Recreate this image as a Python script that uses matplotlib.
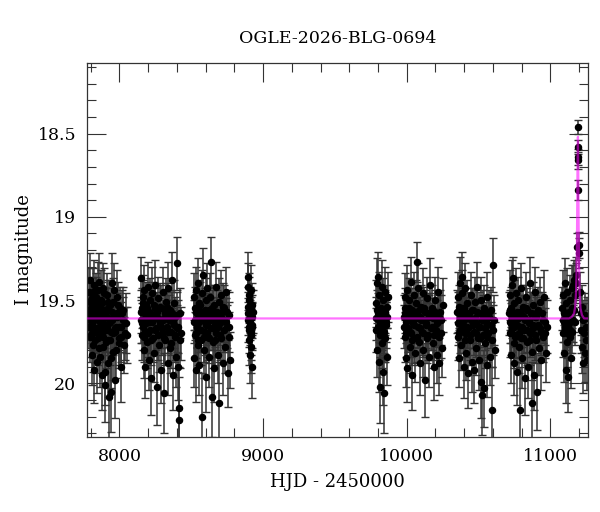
import matplotlib
matplotlib.use("Agg")
import matplotlib.pyplot as plt
from matplotlib.ticker import MultipleLocator

plt.rcParams['font.family'] = ['DejaVu Serif']

# photometry per observing season: (HJD-2450000, I mag, error)
season_1 = [
    (7788, 19.58, 0.13), (7790, 19.45, 0.14), (7793, 19.62, 0.12), (7795, 19.72, 0.15), (7797, 19.38, 0.16),
    (7800, 19.71, 0.13), (7802, 19.50, 0.14), (7804, 19.55, 0.15), (7806, 19.64, 0.12), (7808, 19.83, 0.18),
    (7811, 19.49, 0.12), (7813, 19.77, 0.16), (7815, 19.66, 0.14), (7817, 19.45, 0.14), (7819, 19.58, 0.13),
    (7822, 19.92, 0.20), (7824, 19.60, 0.13), (7826, 19.41, 0.15), (7828, 19.55, 0.15), (7830, 19.74, 0.14),
    (7834, 19.60, 0.12), (7836, 19.69, 0.12), (7838, 19.52, 0.16), (7840, 19.48, 0.14), (7842, 19.87, 0.19),
    (7846, 19.67, 0.13), (7848, 19.73, 0.16), (7850, 19.44, 0.17), (7853, 19.62, 0.13), (7855, 19.79, 0.15),
    (7858, 19.39, 0.17), (7860, 19.57, 0.12), (7863, 19.84, 0.18), (7865, 19.63, 0.14), (7868, 19.66, 0.12),
    (7870, 19.50, 0.18), (7873, 19.58, 0.14), (7875, 19.95, 0.21), (7878, 19.52, 0.13), (7880, 19.70, 0.13),
    (7883, 19.78, 0.16), (7886, 19.43, 0.15), (7889, 19.65, 0.12), (7891, 19.61, 0.12), (7894, 19.46, 0.15),
    (7896, 20.01, 0.22), (7899, 19.93, 0.20), (7902, 19.56, 0.14), (7905, 19.68, 0.13), (7908, 19.75, 0.16),
    (7911, 19.60, 0.14), (7914, 19.47, 0.13), (7917, 19.74, 0.15), (7920, 19.88, 0.20), (7923, 19.51, 0.13),
    (7926, 19.64, 0.12), (7929, 20.08, 0.25), (7932, 19.53, 0.15), (7935, 19.63, 0.12), (7938, 20.05, 0.24),
    (7941, 19.85, 0.18), (7944, 19.69, 0.13), (7947, 19.57, 0.14), (7950, 19.40, 0.18), (7954, 19.70, 0.13),
    (7957, 19.81, 0.17), (7961, 19.44, 0.16), (7964, 19.59, 0.14), (7968, 19.67, 0.15), (7971, 19.98, 0.23),
    (7975, 19.80, 0.17), (7978, 19.66, 0.12), (7982, 19.60, 0.13), (7986, 19.48, 0.16), (7990, 19.53, 0.14),
    (7994, 19.76, 0.15), (7998, 19.73, 0.16), (8003, 19.55, 0.13), (8008, 19.66, 0.15), (8013, 19.90, 0.21),
    (8018, 19.58, 0.14), (8025, 19.62, 0.14), (8032, 19.77, 0.17), (8040, 19.70, 0.16), (8048, 19.64, 0.18),
    (7789, 19.66, 0.13), (7792, 19.51, 0.14), (7799, 19.60, 0.12), (7807, 19.70, 0.14), (7814, 19.56, 0.13),
    (7821, 19.68, 0.14), (7832, 19.54, 0.13), (7845, 19.61, 0.12), (7857, 19.71, 0.14), (7867, 19.55, 0.13),
    (7877, 19.64, 0.12), (7888, 19.72, 0.15), (7898, 19.58, 0.13), (7910, 19.67, 0.14), (7921, 19.55, 0.12),
    (7933, 19.74, 0.15), (7945, 19.62, 0.13), (7958, 19.51, 0.14), (7970, 19.69, 0.13), (7984, 19.58, 0.12),
    (7996, 19.66, 0.14), (8011, 19.72, 0.15), (8028, 19.56, 0.14), (8052, 19.71, 0.17),
]
season_2 = [
    (8150, 19.37, 0.13), (8153, 19.62, 0.14), (8156, 19.55, 0.12), (8159, 19.71, 0.15), (8162, 19.48, 0.13),
    (8165, 19.66, 0.14), (8168, 19.80, 0.17), (8171, 19.58, 0.12), (8174, 19.44, 0.15), (8177, 19.69, 0.13),
    (8180, 19.90, 0.19), (8184, 19.53, 0.14), (8188, 19.64, 0.12), (8192, 19.75, 0.16), (8196, 19.42, 0.15),
    (8200, 19.60, 0.13), (8204, 19.86, 0.18), (8208, 19.57, 0.12), (8212, 19.68, 0.14), (8216, 19.50, 0.13),
    (8220, 19.97, 0.22), (8224, 19.63, 0.12), (8228, 19.46, 0.16), (8232, 19.73, 0.14), (8236, 19.59, 0.13),
    (8240, 19.82, 0.17), (8245, 19.55, 0.12), (8250, 19.41, 0.15), (8255, 19.67, 0.13), (8260, 20.02, 0.23),
    (8265, 19.61, 0.14), (8270, 19.49, 0.13), (8275, 19.77, 0.16), (8280, 19.64, 0.12), (8285, 19.54, 0.14),
    (8290, 19.92, 0.20), (8295, 19.70, 0.13), (8300, 19.45, 0.15), (8305, 19.62, 0.12), (8310, 20.06, 0.24),
    (8315, 19.58, 0.13), (8320, 19.74, 0.15), (8325, 19.51, 0.14), (8330, 19.66, 0.12), (8335, 19.88, 0.19),
    (8340, 19.43, 0.16), (8345, 19.60, 0.13), (8350, 19.79, 0.15), (8355, 19.56, 0.12), (8360, 19.69, 0.14),
    (8365, 19.38, 0.17), (8370, 19.95, 0.21), (8375, 19.63, 0.13), (8380, 19.52, 0.14), (8385, 19.72, 0.15),
    (8390, 19.60, 0.12), (8395, 19.84, 0.18), (8400, 19.28, 0.16), (8404, 19.67, 0.14), (8408, 19.90, 0.20),
    (8412, 20.15, 0.25), (8415, 20.22, 0.26), (8418, 19.74, 0.17), (8422, 19.58, 0.15), (8425, 19.70, 0.16),
    (8152, 19.57, 0.13), (8158, 19.64, 0.12), (8166, 19.52, 0.14), (8173, 19.72, 0.15), (8182, 19.61, 0.13),
    (8190, 19.55, 0.12), (8198, 19.70, 0.14), (8206, 19.63, 0.13), (8214, 19.58, 0.12), (8222, 19.74, 0.15),
    (8230, 19.60, 0.13), (8238, 19.53, 0.14), (8248, 19.68, 0.13), (8258, 19.57, 0.12), (8268, 19.71, 0.15),
    (8278, 19.62, 0.13), (8288, 19.55, 0.14), (8298, 19.67, 0.12), (8308, 19.73, 0.15), (8318, 19.60, 0.13),
    (8328, 19.54, 0.14), (8338, 19.69, 0.13), (8348, 19.62, 0.12), (8358, 19.76, 0.15), (8368, 19.58, 0.13),
    (8378, 19.65, 0.14), (8388, 19.71, 0.15), (8398, 19.59, 0.14), (8410, 19.66, 0.16),
]
season_3 = [
    (8518, 19.48, 0.14), (8521, 19.85, 0.17), (8524, 19.62, 0.12), (8527, 19.55, 0.13), (8530, 19.70, 0.15),
    (8533, 19.92, 0.19), (8536, 19.44, 0.14), (8539, 19.66, 0.12), (8542, 19.58, 0.13), (8545, 19.77, 0.16),
    (8548, 19.40, 0.15), (8551, 19.63, 0.12), (8554, 19.52, 0.14), (8557, 19.89, 0.18), (8560, 19.68, 0.13),
    (8564, 19.57, 0.12), (8568, 19.74, 0.15), (8572, 19.46, 0.14), (8576, 20.20, 0.26), (8580, 19.61, 0.13),
    (8584, 19.35, 0.16), (8588, 19.80, 0.17), (8592, 19.59, 0.12), (8596, 19.69, 0.14), (8600, 19.50, 0.13),
    (8604, 19.96, 0.21), (8608, 19.64, 0.12), (8612, 19.43, 0.15), (8616, 19.72, 0.14), (8620, 19.56, 0.13),
    (8624, 19.84, 0.18), (8628, 19.62, 0.12), (8632, 19.48, 0.14), (8636, 19.27, 0.15), (8640, 19.67, 0.13),
    (8644, 20.08, 0.24), (8648, 19.58, 0.14), (8652, 19.75, 0.16), (8656, 19.53, 0.12), (8660, 19.91, 0.20),
    (8665, 19.65, 0.13), (8670, 19.42, 0.15), (8675, 19.70, 0.14), (8680, 19.60, 0.12), (8685, 19.83, 0.17),
    (8690, 19.51, 0.14), (8695, 20.12, 0.25), (8700, 19.64, 0.13), (8705, 19.47, 0.15), (8710, 19.73, 0.14),
    (8715, 19.57, 0.12), (8720, 19.88, 0.19), (8725, 19.62, 0.13), (8730, 19.55, 0.14), (8736, 19.78, 0.16),
    (8742, 19.45, 0.15), (8748, 19.66, 0.13), (8754, 19.94, 0.20), (8760, 19.59, 0.14), (8766, 19.72, 0.15),
    (8772, 19.86, 0.17),
    (8520, 19.63, 0.13), (8526, 19.71, 0.14), (8534, 19.57, 0.12), (8541, 19.66, 0.13), (8549, 19.74, 0.15),
    (8556, 19.60, 0.12), (8563, 19.53, 0.14), (8570, 19.68, 0.13), (8578, 19.62, 0.12), (8586, 19.72, 0.15),
    (8594, 19.56, 0.13), (8602, 19.65, 0.12), (8610, 19.70, 0.14), (8618, 19.59, 0.13), (8626, 19.73, 0.15),
    (8634, 19.61, 0.12), (8642, 19.55, 0.14), (8650, 19.67, 0.13), (8658, 19.62, 0.12), (8668, 19.74, 0.15),
    (8678, 19.57, 0.13), (8688, 19.66, 0.14), (8698, 19.71, 0.15), (8708, 19.60, 0.12), (8718, 19.54, 0.14),
    (8728, 19.68, 0.13), (8740, 19.63, 0.14), (8752, 19.57, 0.13), (8764, 19.66, 0.15),
]
season_4 = [
    (8893, 19.42, 0.14), (8895, 19.58, 0.13), (8897, 19.36, 0.15), (8899, 19.66, 0.12), (8901, 19.50, 0.14),
    (8903, 19.74, 0.15), (8905, 19.47, 0.13), (8907, 19.62, 0.12), (8909, 19.83, 0.17), (8911, 19.55, 0.13),
    (8913, 19.69, 0.14), (8915, 19.44, 0.15), (8917, 19.60, 0.12), (8919, 19.78, 0.16), (8921, 19.53, 0.13),
    (8923, 19.90, 0.19), (8925, 19.65, 0.14), (8927, 19.57, 0.13),
    (8894, 19.62, 0.13), (8898, 19.54, 0.12), (8902, 19.68, 0.14), (8906, 19.58, 0.12), (8910, 19.64, 0.13),
    (8914, 19.71, 0.15), (8918, 19.56, 0.12), (8922, 19.66, 0.14), (8926, 19.60, 0.13),
]
season_5 = [
    (9786, 19.52, 0.14), (9789, 19.68, 0.13), (9792, 19.40, 0.15), (9795, 19.80, 0.16), (9798, 19.58, 0.12),
    (9801, 19.36, 0.15), (9804, 19.62, 0.13), (9807, 19.87, 0.18), (9810, 19.47, 0.14), (9813, 19.71, 0.13),
    (9816, 20.02, 0.22), (9819, 19.55, 0.12), (9822, 19.65, 0.14), (9825, 19.42, 0.16), (9828, 19.76, 0.15),
    (9831, 19.60, 0.12), (9834, 19.93, 0.20), (9837, 19.50, 0.13), (9840, 19.69, 0.14), (9843, 20.06, 0.24),
    (9846, 19.57, 0.13), (9849, 19.45, 0.15), (9852, 19.73, 0.14), (9856, 19.63, 0.12), (9860, 19.84, 0.17),
    (9865, 19.54, 0.13), (9870, 19.48, 0.15),
    (9788, 19.61, 0.13), (9794, 19.56, 0.12), (9800, 19.66, 0.14), (9806, 19.59, 0.12), (9812, 19.63, 0.13),
    (9818, 19.70, 0.15), (9824, 19.57, 0.12), (9830, 19.66, 0.14), (9836, 19.61, 0.13), (9842, 19.72, 0.15),
    (9848, 19.58, 0.13), (9854, 19.65, 0.14), (9862, 19.60, 0.13),
]
season_6 = [
    (9982, 19.60, 0.13), (9985, 19.48, 0.14), (9988, 19.72, 0.15), (9991, 19.55, 0.12), (9994, 19.85, 0.17),
    (9997, 19.63, 0.13), (10000, 19.44, 0.15), (10004, 19.91, 0.20), (10008, 19.58, 0.12), (10012, 19.67, 0.14),
    (10016, 19.50, 0.13), (10020, 19.78, 0.16), (10024, 19.61, 0.12), (10028, 19.39, 0.15), (10032, 19.70, 0.14),
    (10036, 19.56, 0.13), (10040, 19.95, 0.21), (10044, 19.64, 0.12), (10048, 19.47, 0.14), (10052, 19.73, 0.15),
    (10056, 19.59, 0.13), (10060, 19.82, 0.17), (10065, 19.52, 0.14), (10070, 19.27, 0.12), (10075, 19.66, 0.13),
    (10080, 19.43, 0.15), (10085, 19.75, 0.14), (10090, 19.60, 0.12), (10095, 19.88, 0.19), (10100, 19.54, 0.13),
    (10105, 19.69, 0.14), (10110, 19.46, 0.15), (10115, 19.80, 0.16), (10120, 19.62, 0.12), (10125, 19.57, 0.13),
    (10130, 19.98, 0.22), (10135, 19.65, 0.14), (10140, 19.49, 0.13), (10145, 19.71, 0.15), (10150, 19.58, 0.12),
    (10156, 19.84, 0.18), (10162, 19.41, 0.16), (10168, 19.67, 0.13), (10174, 19.55, 0.14), (10180, 19.76, 0.15),
    (10186, 19.61, 0.12), (10192, 19.90, 0.20), (10198, 19.50, 0.14), (10204, 19.68, 0.13), (10210, 19.83, 0.17),
    (10216, 19.45, 0.15), (10222, 19.72, 0.14), (10228, 19.88, 0.19), (10234, 19.57, 0.13), (10240, 19.62, 0.15),
    (10246, 19.79, 0.17), (10250, 19.53, 0.16),
    (9984, 19.66, 0.13), (9990, 19.58, 0.12), (9998, 19.70, 0.14), (10006, 19.62, 0.13), (10014, 19.55, 0.12),
    (10022, 19.69, 0.14), (10030, 19.60, 0.13), (10038, 19.74, 0.15), (10046, 19.57, 0.12), (10054, 19.65, 0.13),
    (10062, 19.61, 0.12), (10072, 19.72, 0.15), (10082, 19.56, 0.13), (10092, 19.67, 0.14), (10102, 19.62, 0.12),
    (10112, 19.70, 0.14), (10122, 19.55, 0.13), (10132, 19.64, 0.12), (10142, 19.73, 0.15), (10152, 19.60, 0.13),
    (10164, 19.58, 0.12), (10176, 19.66, 0.14), (10188, 19.71, 0.15), (10200, 19.57, 0.13), (10212, 19.64, 0.14),
    (10224, 19.60, 0.13), (10238, 19.70, 0.15),
]
season_7 = [
    (10352, 19.57, 0.13), (10355, 19.72, 0.14), (10358, 19.48, 0.15), (10361, 19.63, 0.12), (10364, 19.85, 0.17),
    (10367, 19.54, 0.13), (10370, 19.40, 0.16), (10373, 19.68, 0.14), (10376, 19.59, 0.12), (10380, 19.77, 0.15),
    (10384, 19.46, 0.14), (10388, 19.36, 0.15), (10392, 19.65, 0.13), (10396, 19.90, 0.19), (10400, 19.55, 0.12),
    (10404, 19.70, 0.14), (10408, 19.43, 0.15), (10412, 19.61, 0.13), (10416, 19.82, 0.16), (10420, 19.52, 0.14),
    (10425, 19.67, 0.12), (10430, 19.94, 0.21), (10435, 19.58, 0.13), (10440, 19.74, 0.15), (10445, 19.47, 0.14),
    (10450, 19.62, 0.12), (10455, 19.87, 0.18), (10460, 19.56, 0.13), (10465, 19.69, 0.14), (10470, 19.92, 0.20),
    (10475, 19.51, 0.15), (10480, 19.79, 0.16), (10485, 19.64, 0.12), (10490, 19.42, 0.15), (10495, 19.73, 0.14),
    (10500, 19.58, 0.13), (10505, 19.86, 0.18), (10510, 19.66, 0.12), (10515, 19.50, 0.14), (10520, 19.99, 0.22),
    (10524, 20.07, 0.24), (10528, 19.71, 0.15), (10532, 19.60, 0.13), (10536, 20.03, 0.23), (10540, 19.55, 0.14),
    (10545, 19.76, 0.15), (10550, 19.63, 0.12), (10556, 19.89, 0.19), (10562, 19.48, 0.15), (10568, 19.70, 0.14),
    (10574, 19.57, 0.13), (10580, 19.84, 0.17), (10586, 19.65, 0.14), (10592, 19.74, 0.16), (10596, 20.16, 0.26),
    (10600, 19.29, 0.16), (10606, 19.62, 0.15), (10612, 19.80, 0.17),
    (10354, 19.64, 0.13), (10360, 19.57, 0.12), (10366, 19.70, 0.14), (10374, 19.61, 0.13), (10382, 19.55, 0.12),
    (10390, 19.68, 0.14), (10398, 19.62, 0.13), (10406, 19.74, 0.15), (10414, 19.58, 0.12), (10422, 19.66, 0.13),
    (10432, 19.60, 0.12), (10442, 19.71, 0.15), (10452, 19.56, 0.13), (10462, 19.65, 0.14), (10472, 19.61, 0.12),
    (10482, 19.70, 0.14), (10492, 19.57, 0.13), (10502, 19.66, 0.12), (10512, 19.73, 0.15), (10522, 19.62, 0.13),
    (10534, 19.58, 0.14), (10548, 19.67, 0.13), (10560, 19.72, 0.15), (10572, 19.60, 0.13), (10584, 19.56, 0.14),
    (10598, 19.68, 0.15),
]
season_8 = [
    (10714, 19.58, 0.13), (10717, 19.70, 0.14), (10720, 19.47, 0.15), (10723, 19.64, 0.12), (10726, 19.83, 0.17),
    (10729, 19.55, 0.13), (10732, 19.41, 0.15), (10735, 19.67, 0.14), (10738, 19.37, 0.13), (10741, 19.60, 0.12),
    (10744, 19.76, 0.15), (10747, 19.52, 0.14), (10750, 19.88, 0.19), (10754, 19.63, 0.12), (10758, 19.46, 0.15),
    (10762, 19.71, 0.14), (10766, 19.57, 0.13), (10770, 19.93, 0.20), (10774, 19.61, 0.12), (10778, 19.50, 0.14),
    (10782, 19.78, 0.16), (10786, 20.16, 0.26), (10790, 19.66, 0.13), (10794, 19.43, 0.15), (10798, 19.73, 0.14),
    (10802, 19.59, 0.12), (10806, 19.85, 0.18), (10810, 19.54, 0.13), (10815, 19.68, 0.14), (10820, 19.97, 0.22),
    (10825, 19.62, 0.12), (10830, 19.48, 0.15), (10835, 19.75, 0.14), (10840, 19.56, 0.13), (10845, 19.90, 0.19),
    (10850, 19.64, 0.12), (10855, 19.40, 0.16), (10860, 19.70, 0.14), (10865, 19.58, 0.13), (10870, 19.81, 0.17),
    (10874, 20.12, 0.25), (10878, 19.53, 0.14), (10882, 19.67, 0.12), (10886, 19.95, 0.21), (10890, 19.60, 0.13),
    (10895, 19.45, 0.15), (10900, 19.74, 0.14), (10905, 19.57, 0.12), (10909, 20.05, 0.23), (10914, 19.65, 0.13),
    (10920, 19.79, 0.16), (10926, 19.51, 0.15), (10932, 19.69, 0.14), (10938, 19.86, 0.18), (10944, 19.58, 0.13),
    (10950, 19.72, 0.15), (10956, 19.48, 0.16), (10962, 19.63, 0.14), (10968, 19.82, 0.17), (10975, 19.66, 0.16),
    (10716, 19.63, 0.13), (10722, 19.56, 0.12), (10728, 19.69, 0.14), (10736, 19.60, 0.13), (10745, 19.66, 0.12),
    (10752, 19.72, 0.15), (10760, 19.58, 0.13), (10768, 19.65, 0.14), (10776, 19.61, 0.12), (10784, 19.70, 0.14),
    (10792, 19.57, 0.13), (10800, 19.66, 0.12), (10808, 19.73, 0.15), (10818, 19.60, 0.13), (10828, 19.55, 0.14),
    (10838, 19.68, 0.13), (10848, 19.62, 0.12), (10858, 19.74, 0.15), (10868, 19.58, 0.13), (10880, 19.65, 0.14),
    (10892, 19.71, 0.15), (10903, 19.60, 0.12), (10917, 19.56, 0.14), (10930, 19.67, 0.13), (10947, 19.62, 0.14),
    (10960, 19.70, 0.15),
]
season_9 = [
    (11083, 19.55, 0.13), (11086, 19.70, 0.14), (11089, 19.47, 0.15), (11092, 19.63, 0.12), (11095, 19.82, 0.17),
    (11098, 19.58, 0.13), (11101, 19.40, 0.15), (11104, 19.68, 0.14), (11107, 19.52, 0.13), (11110, 19.92, 0.20),
    (11113, 19.60, 0.12), (11116, 19.75, 0.15), (11119, 19.45, 0.14), (11122, 19.65, 0.13), (11126, 19.96, 0.21),
    (11130, 19.57, 0.12), (11134, 19.72, 0.14), (11138, 19.50, 0.15), (11142, 19.85, 0.18), (11146, 19.62, 0.13),
    (11150, 19.43, 0.14), (11154, 19.69, 0.13), (11158, 19.41, 0.12), (11162, 19.56, 0.13), (11166, 19.38, 0.12),
    (11170, 19.63, 0.14), (11174, 19.47, 0.12), (11178, 19.35, 0.11), (11182, 19.40, 0.12),
    (11085, 19.62, 0.13), (11093, 19.57, 0.12), (11100, 19.66, 0.14), (11108, 19.60, 0.13), (11117, 19.70, 0.15),
    (11124, 19.58, 0.12), (11132, 19.64, 0.13), (11140, 19.68, 0.14), (11148, 19.55, 0.12), (11156, 19.62, 0.13),
    (11185, 19.18, 0.08), (11189, 18.84, 0.06), (11190, 18.46, 0.04), (11191, 18.58, 0.04), (11191, 18.64, 0.05),
    (11192, 18.66, 0.05), (11196, 19.17, 0.08), (11198, 19.22, 0.09),
    (11205, 19.45, 0.12), (11210, 19.58, 0.13), (11214, 19.68, 0.14), (11218, 19.54, 0.13), (11222, 19.78, 0.16),
    (11226, 19.62, 0.12), (11230, 19.88, 0.18), (11234, 19.70, 0.14), (11238, 19.59, 0.13), (11242, 19.82, 0.17),
    (11246, 19.66, 0.14), (11250, 19.74, 0.15), (11254, 19.61, 0.13), (11258, 19.86, 0.18),
]
seasons = [season_1, season_2, season_3, season_4, season_5,
           season_6, season_7, season_8, season_9]

# fitted microlensing model
model_hjd = [7700, 11130, 11150, 11165, 11173, 11179, 11182, 11185, 11187, 11189,
             11191, 11192, 11193, 11195, 11197, 11200, 11204, 11210, 11220, 11235, 11300]
model_mag = [19.61, 19.61, 19.60, 19.58, 19.54, 19.45, 19.34, 19.16, 18.94, 18.70,
             18.54, 18.52, 18.56, 18.80, 19.06, 19.30, 19.46, 19.55, 19.59, 19.61, 19.61]

fig = plt.figure(figsize=(6, 5.12), dpi=100)
ax = fig.add_axes([0.1455, 0.147, 0.834, 0.7305])

for s in seasons:
    t = [p[0] for p in s]
    m = [p[1] for p in s]
    e = [p[2] for p in s]
    ax.errorbar(t, m, yerr=e, fmt='o', color='black', markersize=4.4,
                ecolor='#333333', elinewidth=1.1, capsize=3, capthick=1.0,
                zorder=2)

# model on top, semi-transparent
ax.plot(model_hjd, model_mag, color='magenta', lw=1.6, alpha=0.55, zorder=3)

ax.set_xlim(7776, 11260)
ax.set_ylim(20.32, 18.075)

ax.xaxis.set_major_locator(MultipleLocator(1000))
ax.xaxis.set_minor_locator(MultipleLocator(200))
ax.yaxis.set_major_locator(MultipleLocator(0.5))
ax.yaxis.set_minor_locator(MultipleLocator(0.1))
ax.set_yticks([18.5, 19, 19.5, 20])
ax.set_yticklabels(['18.5', '19', '19.5', '20'])

ax.tick_params(which='both', direction='in', top=True, right=True,
               labelsize=12.5, color='#333333')
ax.tick_params(which='major', length=13.5, width=0.8, pad=8)
ax.tick_params(which='minor', length=6.5, width=0.8)
for sp in ax.spines.values():
    sp.set_linewidth(0.9)
    sp.set_color('#333333')

ax.set_title('OGLE-2026-BLG-0694', fontsize=12.5, pad=14)
ax.set_xlabel('HJD - 2450000', fontsize=13, labelpad=6)
ax.set_ylabel('I magnitude', fontsize=13, labelpad=3)

fig.savefig('out.png', dpi=100)
